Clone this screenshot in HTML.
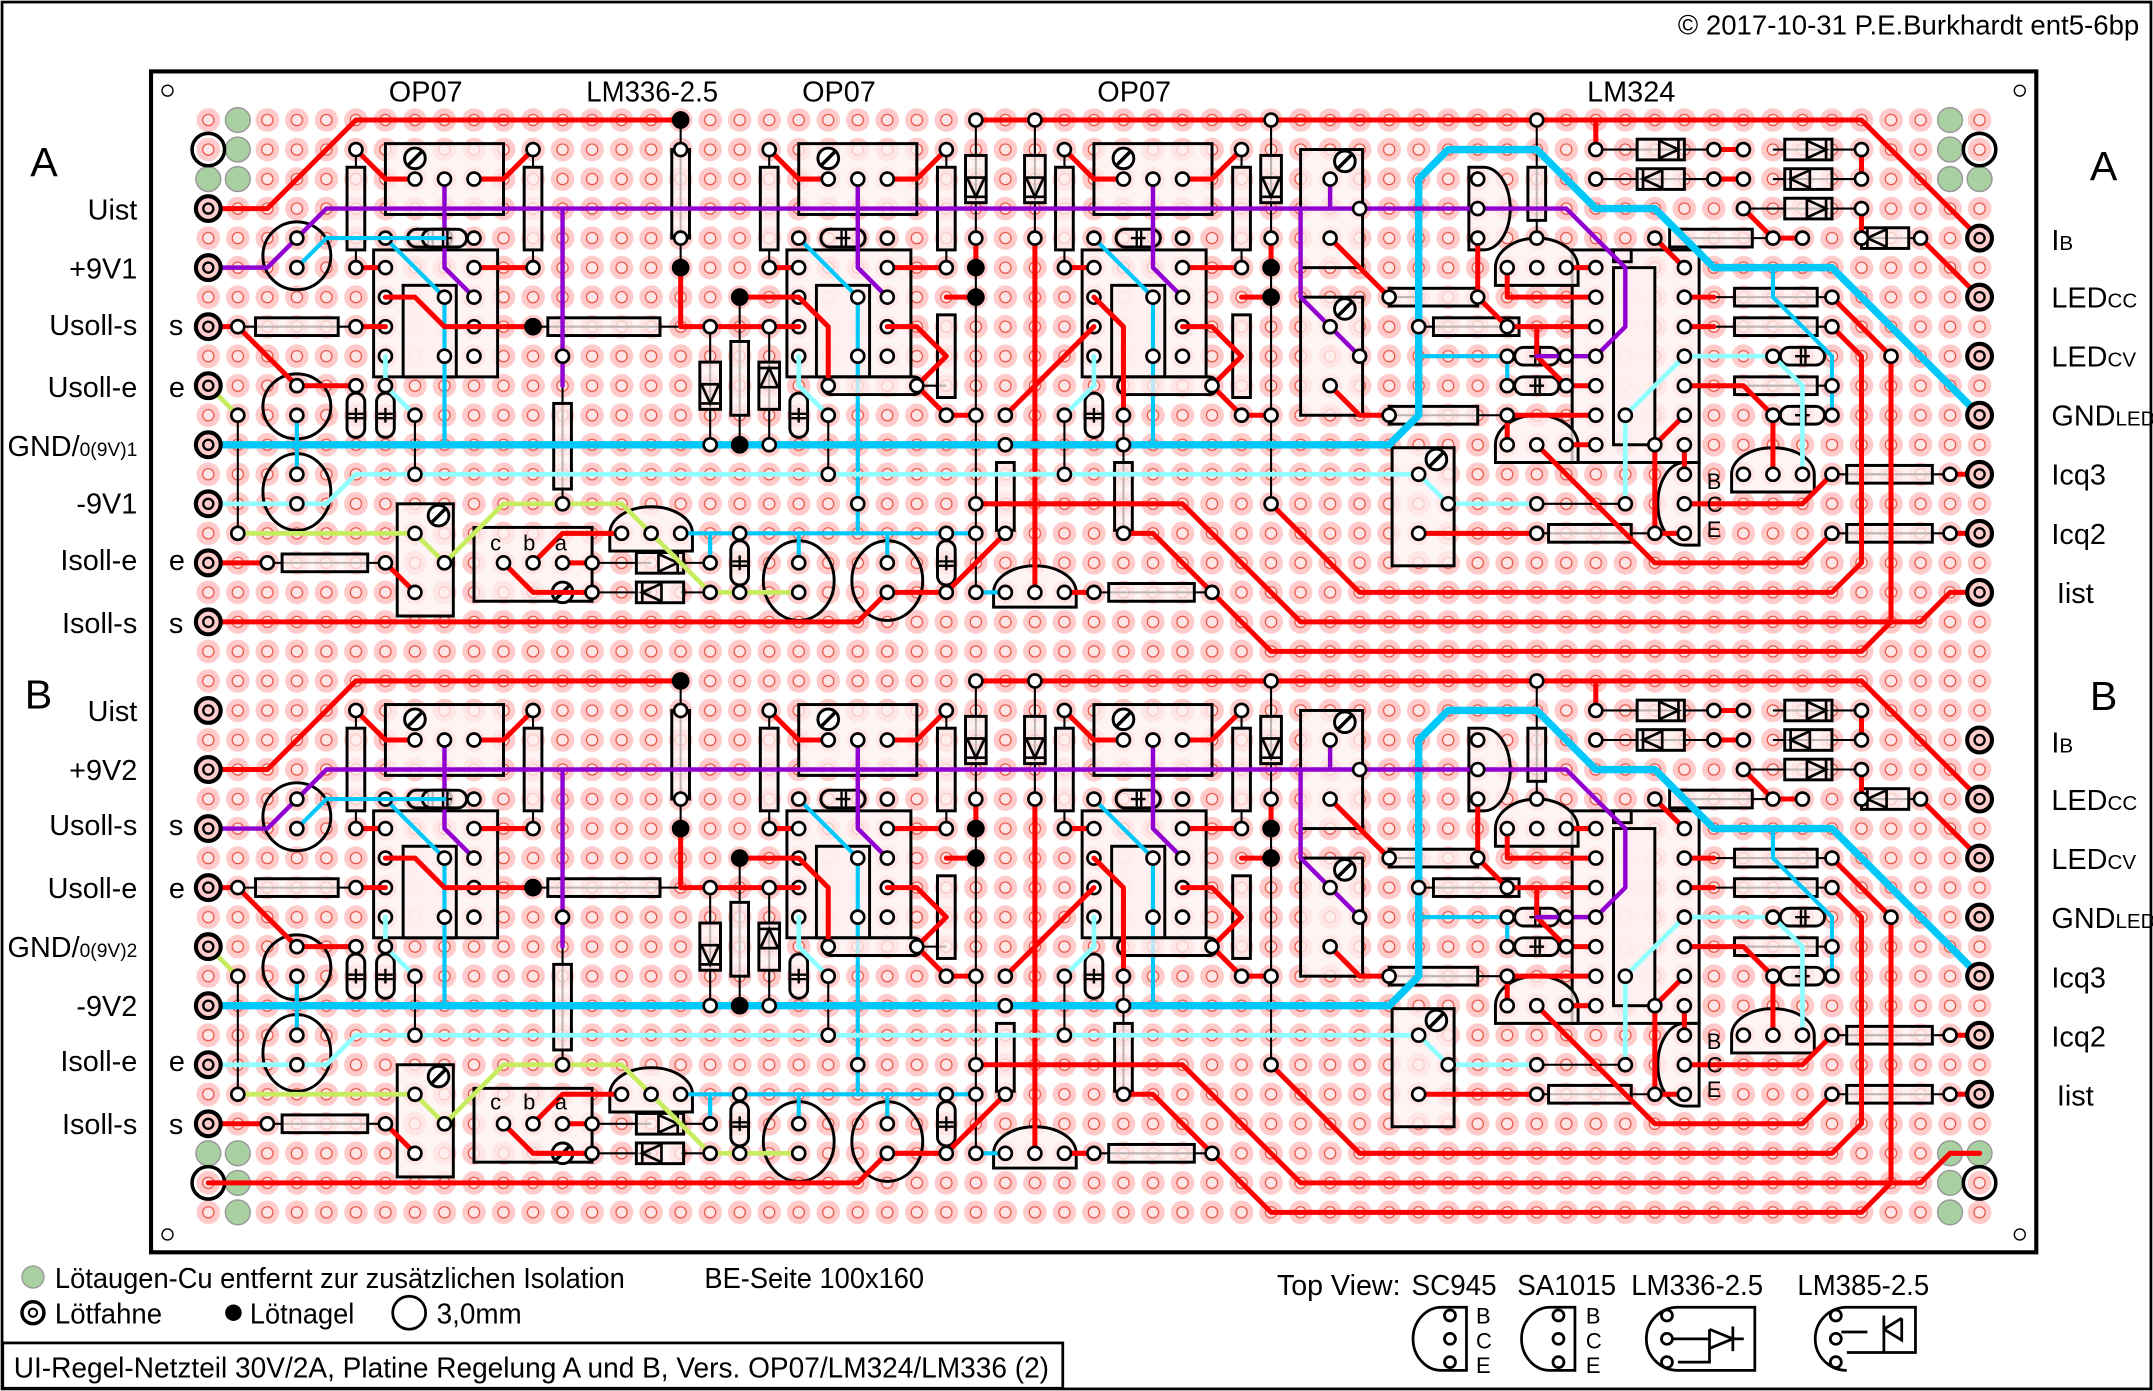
<!DOCTYPE html>
<html><head><meta charset="utf-8"><style>
html,body{margin:0;padding:0;background:#fff}
svg{display:block}
text{font-family:"Liberation Sans Narrow","Liberation Sans",sans-serif;fill:#000}
.c{fill:#fff0f0;fill-opacity:.75;stroke:#000;stroke-width:.1}
.r{fill:none;stroke:#f00;stroke-width:.17;stroke-linejoin:round;stroke-linecap:round}
.b{fill:none;stroke:#00c8f8;stroke-width:.25;stroke-linejoin:round;stroke-linecap:round}
.bt{fill:none;stroke:#00c8f8;stroke-width:.14;stroke-linejoin:round;stroke-linecap:round}
.lc{fill:none;stroke:#90ffff;stroke-width:.16;stroke-linejoin:round;stroke-linecap:round}
.pu{fill:none;stroke:#9000d0;stroke-width:.15;stroke-linejoin:round;stroke-linecap:round}
.y{fill:none;stroke:#c8ec60;stroke-width:.16;stroke-linejoin:round;stroke-linecap:round}
.k{fill:none;stroke:#000;stroke-width:.07}
.p{fill:#fff;stroke:#000;stroke-width:.09}
.d{fill:#000}
.g{fill:#a8d0a0;stroke:#999;stroke-width:.05}
.rg{fill:#fcc;stroke:#000;stroke-width:.14}
</style></head><body>
<svg width="2153" height="1391" viewBox="0 0 1568 1013" preserveAspectRatio="none">
<defs>
<pattern id="pad" patternUnits="userSpaceOnUse" x="-0.5" y="-0.5" width="1" height="1">
<circle cx="0.5" cy="0.5" r="0.4" fill="#ffcaca"/>
<circle cx="0.5" cy="0.5" r="0.19" fill="#ffe6e6" stroke="#e85040" stroke-width="0.04"/>
</pattern>
<g id="dh"><rect x="-0.8" y="-0.35" width="1.6" height="0.7" class="c"/><path d="M-0.05,-0.35V0.35M-0.05,-0.3L0.6,0L-0.05,0.3M0.6,-0.35V0.35" class="k" style="stroke-width:.09"/></g>
<g id="ch"><rect x="-0.75" y="-0.3" width="1.5" height="0.6" rx="0.3" class="c"/><path d="M-0.25,0H0.25M-0.05,-0.25V0.25M0.1,-0.25V0.25" class="k" style="stroke-width:.08"/></g>
<g id="tp"><circle r="0.35" fill="#fff" stroke="#000" stroke-width="0.1"/><path d="M-0.25,0.25L0.25,-0.25" stroke="#000" stroke-width="0.12"/></g>
<g id="op">
<rect x="1" y="0.8" width="4" height="2.4" class="c"/>
<rect x="0.6" y="4.4" width="4.2" height="4.3" class="c"/>
<rect x="1.6" y="5.6" width="1.8" height="3.1" class="c"/>
<rect x="-0.3" y="1.6" width="0.6" height="2.8" class="c"/>
<rect x="5.7" y="1.6" width="0.6" height="2.8" class="c"/>
<use href="#ch" x="2.5" y="4"/>
<use href="#tp" x="2" y="1.3"/>
<path class="k" d="M0,1V1.6M0,4.4V5M6,1V1.6M6,4.4V5"/>
<path class="r" d="M0,1L1,2H2M4,2H5L6,1M0,5H1M4,5H6"/>
<path class="pu" d="M3,2V5L4,6"/>
<path class="bt" d="M1,4L3,6V11"/>
<g class="p">
<circle cx="0" cy="1" r=".22"/><circle cx="0" cy="5" r=".22"/><circle cx="6" cy="1" r=".22"/><circle cx="6" cy="5" r=".22"/>
<circle cx="2" cy="2" r=".22"/><circle cx="3" cy="2" r=".22"/><circle cx="4" cy="2" r=".22"/><circle cx="1" cy="4" r=".22"/><circle cx="4" cy="4" r=".22"/>
<circle cx="1" cy="5" r=".22"/><circle cx="1" cy="6" r=".22"/><circle cx="1" cy="7" r=".22"/><circle cx="1" cy="8" r=".22"/>
<circle cx="4" cy="5" r=".22"/><circle cx="4" cy="6" r=".22"/><circle cx="4" cy="7" r=".22"/><circle cx="4" cy="8" r=".22"/>
<circle cx="3" cy="6" r=".22"/><circle cx="3" cy="8" r=".22"/>
</g>
</g>
<g id="half">
<path class="k" d="M16,0V5M26,0V16M28,0V16M36,0V13M1,10V14M7,10V12M17,7V11M18,6V11M19,7V11M21,10V12M22,7V14M29,10V12M31,10V14M45,0V4M12,8V13M24,9H25M38,3H44M41,6H40M2,15H6M13,15H15M13,16H15M16,15H17M16,16H18M34,16H30M1,7H5M11,7H16M47,1H52M53,1H56M47,2H52M53,2H56M52,3H56M45,13H48M45,14H49M55,12H59M55,14H59M50,4H53M56,4H58M41,7H45M40,10H44M51,6H55M51,7H55M51,9H55"/>
<use href="#op" x="5" y="0"/><use href="#op" x="19" y="0"/><use href="#op" x="29" y="0"/>
<ellipse cx="3" cy="4.6" rx="1.15" ry="1.15" fill="none" stroke="#000" stroke-width=".1"/>
<ellipse cx="3" cy="9.7" rx="1.15" ry="1.1" fill="none" stroke="#000" stroke-width=".1"/>
<ellipse cx="3" cy="12.6" rx="1.15" ry="1.3" fill="none" stroke="#000" stroke-width=".1"/>
<ellipse cx="20" cy="15.6" rx="1.2" ry="1.35" fill="none" stroke="#000" stroke-width=".1"/>
<ellipse cx="23" cy="15.6" rx="1.2" ry="1.35" fill="none" stroke="#000" stroke-width=".1"/>
<g class="c">
<rect x="1.6" y="6.7" width="2.8" height="0.6"/><rect x="11.5" y="6.7" width="3.8" height="0.6"/>
<rect x="2.5" y="14.7" width="2.9" height="0.6"/><rect x="30.5" y="15.7" width="2.9" height="0.6"/>
<rect x="40" y="5.7" width="3" height="0.6"/><rect x="41.5" y="6.7" width="2.9" height="0.6"/><rect x="40" y="9.7" width="3" height="0.6"/>
<rect x="49.5" y="3.7" width="2.8" height="0.6"/><rect x="51.7" y="5.7" width="2.8" height="0.6"/><rect x="51.7" y="6.7" width="2.8" height="0.6"/><rect x="51.7" y="8.7" width="2.8" height="0.6"/>
<rect x="55.5" y="11.7" width="2.9" height="0.6"/><rect x="55.5" y="13.7" width="2.9" height="0.6"/><rect x="45.4" y="13.7" width="2.8" height="0.6"/>
<rect x="15.7" y="1" width="0.6" height="3"/><rect x="44.7" y="1.6" width="0.6" height="1.8"/><rect x="11.7" y="9.6" width="0.6" height="2.9"/>
<rect x="17.7" y="7.5" width="0.6" height="2.5"/><rect x="24.7" y="6.6" width="0.6" height="2.8"/><rect x="34.7" y="6.6" width="0.6" height="2.8"/>
<rect x="26.7" y="11.6" width="0.6" height="2.3"/><rect x="30.7" y="11.6" width="0.6" height="2.3"/>
<rect x="37" y="1" width="2.1" height="4"/><rect x="37" y="6" width="2.1" height="4"/><rect x="40.1" y="11.1" width="2.1" height="4"/>
<rect x="6.4" y="13" width="1.9" height="3.8"/><rect x="9" y="13.8" width="4" height="2.5"/>
<rect x="46.2" y="4.4" width="4.3" height="7.2"/><rect x="47.6" y="5" width="1.4" height="6"/>
<rect x="47.6" y="4.4" width="0.6" height="0.4"/>
<path d="M43.6,5.6V5A1.4,1 0 0 1 46.4,5V5.6Z"/>
<path d="M43.6,11.6V11A1.4,1 0 0 1 46.4,11V11.6Z"/>
<path d="M13.6,14.6V14A1.4,0.9 0 0 1 16.4,14V14.6Z"/>
<path d="M26.6,16.5V16A1.4,0.9 0 0 1 29.4,16V16.5Z"/>
<path d="M51.6,12.6V12A1.4,0.9 0 0 1 54.4,12V12.6Z"/>
<path d="M50.5,11.6H50A0.9,1.4 0 0 0 50,14.4H50.5Z"/>
<path d="M42.7,1.6H43.2A0.9,1.4 0 0 1 43.2,4.4H42.7Z"/>
<rect x="20.8" y="8.7" width="3.4" height="0.6" rx="0.3"/><rect x="30.8" y="8.7" width="3.4" height="0.6" rx="0.3"/>
</g>
<use href="#dh" x="49.2" y="1"/><use href="#dh" transform="translate(49.2,2) rotate(180)"/>
<use href="#dh" x="54.2" y="1"/><use href="#dh" transform="translate(54.2,2) rotate(180)"/><use href="#dh" x="54.2" y="3"/>
<use href="#dh" transform="translate(56.8,4) rotate(180)"/>
<use href="#dh" transform="translate(26,2) rotate(90)"/><use href="#dh" transform="translate(28,2) rotate(90)"/><use href="#dh" transform="translate(36,2) rotate(90)"/>
<use href="#dh" transform="translate(17,9) rotate(90)"/><use href="#dh" transform="translate(19,9) rotate(-90)"/>
<use href="#dh" x="15.3" y="15"/><use href="#dh" transform="translate(15.3,16) rotate(180)"/>
<use href="#ch" x="45" y="8"/><use href="#ch" x="45" y="9"/><use href="#ch" x="54" y="8"/><use href="#ch" x="54" y="10"/>
<use href="#ch" x="8" y="4"/>
<use href="#ch" transform="translate(5,10) rotate(90)"/><use href="#ch" transform="translate(6,10) rotate(90)"/>
<use href="#ch" transform="translate(20,10) rotate(90)"/><use href="#ch" transform="translate(30,10) rotate(90)"/>
<use href="#ch" transform="translate(18,15) rotate(90)"/><use href="#ch" transform="translate(25,15) rotate(90)"/>
<use href="#tp" x="38.5" y="1.4"/><use href="#tp" x="38.5" y="6.4"/><use href="#tp" x="41.6" y="11.5"/><use href="#tp" x="7.8" y="13.4"/><use href="#tp" x="12" y="16"/>
<path class="r" d="M0,3H2L5,0H16M26,0H56L60,4M6,6H7L8,7H11M5,7H6M0,7H1L3,9H5M16,5V7H20M18,6H20L21,7V9M26,4V5M25,6H26M36,4V5M35,6H36M23,7H24L25,8L24,9L25,10H26M33,7H34L35,8L34,9L35,10H36M27,10L30,7M30,6L31,7V10M28,4V16M26,13H33L37,17H57V8L55,6M36,13L39,16H55L56,15V8L55,7M57,17H58L59,16H60M31,14H32L36,18H56L57,17M0,15H2M6,15L7,16M0,17H22L23,16H25L27,14M11,15L12,14H14M12,15H13M10,15L11,16H13M29,16H30M38,4L40,6M38,9L39,10H40M41,14H45M43,4V6L44,7H47M44,5V6H47M46,5H47M45,7V8L46,9H47M44,10H47M44,10V11M46,11H47M45,11L49,15H54L55,14M50,10L49,11V14H50M50,11V12M50,13H54L55,12M50,9H52L53,10V12M50,5L49,4M50,6H51M50,7H51M47,0V1M51,1H52M51,2H52M56,1V2M56,3V4M52,3L53,4H54M58,4L60,6M59,12H60M59,14H60"/>
<path class="b" d="M0,11H40L41,10V2L42,1H45L47,3H49L51,5H55L60,10"/>
<path class="bt" d="M41,8H44V9M53,5V6L55,8V10M3,10V12M16,14H26M22,11V14M17,14V15M20,14V15M23,14V15M26,16H27M8,4H6L4,4L3,5"/>
<path class="lc" d="M0,13H4L5,12H41L42,13H45M48,13V10L50,8H53L54,9V12M6,8V9L7,10M20,8V9L21,10M30,8V9L29,10"/>
<path class="pu" d="M0,5H2L4,3H46L48,5V7L47,8H45M12,3V9M37,3V6L39,8M38,2V3"/>
<path class="y" d="M0,9L1,10M1,14H7L8,15L10,13H14L17,16H20"/>
<g class="p">
<circle cx="3" cy="4" r=".22"/><circle cx="3" cy="5" r=".22"/><circle cx="1" cy="7" r=".22"/><circle cx="5" cy="7" r=".22"/><circle cx="3" cy="9" r=".22"/><circle cx="5" cy="9" r=".22"/>
<circle cx="3" cy="10" r=".22"/><circle cx="3" cy="12" r=".22"/><circle cx="3" cy="13" r=".22"/><circle cx="1" cy="10" r=".22"/><circle cx="1" cy="14" r=".22"/><circle cx="7" cy="10" r=".22"/><circle cx="7" cy="12" r=".22"/>
<circle cx="6" cy="9" r=".22"/><circle cx="2" cy="15" r=".22"/><circle cx="6" cy="15" r=".22"/><circle cx="7" cy="14" r=".22"/><circle cx="8" cy="15" r=".22"/><circle cx="7" cy="16" r=".22"/>
<circle cx="10" cy="15" r=".22"/><circle cx="11" cy="15" r=".22"/><circle cx="12" cy="15" r=".22"/><circle cx="13" cy="15" r=".22"/><circle cx="13" cy="16" r=".22"/>
<circle cx="14" cy="14" r=".22"/><circle cx="15" cy="14" r=".22"/><circle cx="16" cy="14" r=".22"/><circle cx="17" cy="15" r=".22"/><circle cx="17" cy="16" r=".22"/><circle cx="18" cy="14" r=".22"/><circle cx="18" cy="16" r=".22"/>
<circle cx="20" cy="15" r=".22"/><circle cx="20" cy="16" r=".22"/><circle cx="23" cy="15" r=".22"/><circle cx="23" cy="16" r=".22"/><circle cx="25" cy="14" r=".22"/><circle cx="25" cy="16" r=".22"/>
<circle cx="26" cy="14" r=".22"/><circle cx="26" cy="16" r=".22"/><circle cx="27" cy="14" r=".22"/><circle cx="27" cy="16" r=".22"/><circle cx="28" cy="16" r=".22"/><circle cx="29" cy="16" r=".22"/><circle cx="30" cy="16" r=".22"/><circle cx="34" cy="16" r=".22"/>
<circle cx="12" cy="13" r=".22"/><circle cx="12" cy="8" r=".22"/><circle cx="16" cy="1" r=".22"/><circle cx="16" cy="4" r=".22"/><circle cx="17" cy="7" r=".22"/><circle cx="17" cy="11" r=".22"/><circle cx="19" cy="7" r=".22"/><circle cx="19" cy="11" r=".22"/>
<circle cx="21" cy="9" r=".22"/><circle cx="21" cy="10" r=".22"/><circle cx="21" cy="12" r=".22"/><circle cx="22" cy="13" r=".22"/><circle cx="24" cy="9" r=".22"/><circle cx="25" cy="10" r=".22"/><circle cx="26" cy="0" r=".22"/><circle cx="26" cy="4" r=".22"/><circle cx="26" cy="10" r=".22"/><circle cx="26" cy="13" r=".22"/>
<circle cx="27" cy="10" r=".22"/><circle cx="27" cy="11" r=".22"/><circle cx="28" cy="0" r=".22"/><circle cx="28" cy="4" r=".22"/><circle cx="31" cy="10" r=".22"/><circle cx="31" cy="11" r=".22"/><circle cx="31" cy="14" r=".22"/><circle cx="29" cy="10" r=".22"/><circle cx="29" cy="12" r=".22"/>
<circle cx="34" cy="9" r=".22"/><circle cx="35" cy="10" r=".22"/><circle cx="36" cy="0" r=".22"/><circle cx="36" cy="4" r=".22"/><circle cx="36" cy="10" r=".22"/><circle cx="36" cy="13" r=".22"/>
<circle cx="38" cy="2" r=".22"/><circle cx="38" cy="4" r=".22"/><circle cx="39" cy="3" r=".22"/><circle cx="38" cy="9" r=".22"/><circle cx="39" cy="8" r=".22"/><circle cx="38" cy="7" r=".22"/><circle cx="40" cy="6" r=".22"/><circle cx="40" cy="10" r=".22"/><circle cx="41" cy="12" r=".22"/><circle cx="42" cy="13" r=".22"/><circle cx="41" cy="14" r=".22"/><circle cx="41" cy="7" r=".22"/><circle cx="43" cy="6" r=".22"/>
<circle cx="43" cy="2" r=".22"/><circle cx="43" cy="3" r=".22"/><circle cx="43" cy="4" r=".22"/><circle cx="44" cy="5" r=".22"/><circle cx="45" cy="5" r=".22"/><circle cx="46" cy="5" r=".22"/><circle cx="45" cy="0" r=".22"/><circle cx="45" cy="4" r=".22"/>
<circle cx="47" cy="5" r=".22"/><circle cx="47" cy="6" r=".22"/><circle cx="47" cy="7" r=".22"/><circle cx="47" cy="8" r=".22"/><circle cx="47" cy="9" r=".22"/><circle cx="47" cy="10" r=".22"/><circle cx="47" cy="11" r=".22"/>
<circle cx="50" cy="5" r=".22"/><circle cx="50" cy="6" r=".22"/><circle cx="50" cy="7" r=".22"/><circle cx="50" cy="8" r=".22"/><circle cx="50" cy="9" r=".22"/><circle cx="50" cy="10" r=".22"/><circle cx="50" cy="11" r=".22"/>
<circle cx="44" cy="7" r=".22"/><circle cx="44" cy="8" r=".22"/><circle cx="44" cy="9" r=".22"/><circle cx="44" cy="10" r=".22"/><circle cx="44" cy="11" r=".22"/><circle cx="45" cy="11" r=".22"/><circle cx="46" cy="11" r=".22"/><circle cx="46" cy="8" r=".22"/><circle cx="46" cy="9" r=".22"/>
<circle cx="48" cy="10" r=".22"/><circle cx="48" cy="13" r=".22"/><circle cx="45" cy="13" r=".22"/><circle cx="45" cy="14" r=".22"/><circle cx="49" cy="4" r=".22"/><circle cx="49" cy="11" r=".22"/><circle cx="49" cy="14" r=".22"/>
<circle cx="50" cy="12" r=".22"/><circle cx="50" cy="13" r=".22"/><circle cx="50" cy="14" r=".22"/><circle cx="47" cy="1" r=".22"/><circle cx="47" cy="2" r=".22"/>
<circle cx="51" cy="1" r=".22"/><circle cx="52" cy="1" r=".22"/><circle cx="51" cy="2" r=".22"/><circle cx="52" cy="2" r=".22"/><circle cx="52" cy="3" r=".22"/><circle cx="53" cy="4" r=".22"/><circle cx="54" cy="4" r=".22"/>
<circle cx="56" cy="1" r=".22"/><circle cx="56" cy="2" r=".22"/><circle cx="56" cy="3" r=".22"/><circle cx="56" cy="4" r=".22"/><circle cx="58" cy="4" r=".22"/>
<circle cx="55" cy="6" r=".22"/><circle cx="55" cy="7" r=".22"/><circle cx="55" cy="9" r=".22"/><circle cx="55" cy="10" r=".22"/><circle cx="53" cy="8" r=".22"/><circle cx="53" cy="10" r=".22"/><circle cx="55" cy="12" r=".22"/><circle cx="55" cy="14" r=".22"/><circle cx="59" cy="12" r=".22"/><circle cx="59" cy="14" r=".22"/>
<circle cx="52" cy="12" r=".22"/><circle cx="53" cy="12" r=".22"/><circle cx="54" cy="12" r=".22"/><circle cx="57" cy="8" r=".22"/>
</g>
<g class="d">
<circle cx="16" cy="0" r=".3"/><circle cx="16" cy="5" r=".3"/><circle cx="18" cy="6" r=".3"/><circle cx="26" cy="5" r=".3"/><circle cx="26" cy="6" r=".3"/><circle cx="36" cy="5" r=".3"/><circle cx="36" cy="6" r=".3"/><circle cx="11" cy="7" r=".3"/><circle cx="18" cy="11" r=".3"/>
</g>
</g>
<g id="rings">
<g class="rg">
<circle cx="0" cy="3" r=".42"/><circle cx="0" cy="5" r=".42"/><circle cx="0" cy="7" r=".42"/><circle cx="0" cy="9" r=".42"/><circle cx="0" cy="11" r=".42"/><circle cx="0" cy="13" r=".42"/><circle cx="0" cy="15" r=".42"/><circle cx="0" cy="17" r=".42"/>
<circle cx="60" cy="4" r=".42"/><circle cx="60" cy="6" r=".42"/><circle cx="60" cy="8" r=".42"/><circle cx="60" cy="10" r=".42"/><circle cx="60" cy="12" r=".42"/><circle cx="60" cy="14" r=".42"/><circle cx="60" cy="16" r=".42"/>
</g>
<g fill="none" stroke="#000" stroke-width=".08">
<circle cx="0" cy="3" r=".17"/><circle cx="0" cy="5" r=".17"/><circle cx="0" cy="7" r=".17"/><circle cx="0" cy="9" r=".17"/><circle cx="0" cy="11" r=".17"/><circle cx="0" cy="13" r=".17"/><circle cx="0" cy="15" r=".17"/><circle cx="0" cy="17" r=".17"/>
<circle cx="60" cy="4" r=".17"/><circle cx="60" cy="6" r=".17"/><circle cx="60" cy="8" r=".17"/><circle cx="60" cy="10" r=".17"/><circle cx="60" cy="12" r=".17"/><circle cx="60" cy="14" r=".17"/><circle cx="60" cy="16" r=".17"/>
</g>
</g>
</defs>

<rect x="0" y="0" width="1568" height="1013" fill="#fff"/>
<rect x="1.5" y="1.5" width="1565" height="1010" fill="none" stroke="#000" stroke-width="2"/>
<text x="1558" y="25" font-size="20" text-anchor="end" textLength="336" lengthAdjust="spacingAndGlyphs">© 2017-10-31 P.E.Burkhardt ent5-6bp</text>
<rect x="110" y="52" width="1373" height="860" fill="#fff" stroke="#000" stroke-width="3"/>
<g fill="none" stroke="#000" stroke-width="1"><circle cx="122" cy="66" r="4"/><circle cx="1471" cy="66" r="4"/><circle cx="122" cy="899" r="4"/><circle cx="1471" cy="899" r="4"/></g>

<g transform="translate(151.7,87.4) scale(21.5)">
<rect x="-0.5" y="-0.5" width="61" height="38" fill="url(#pad)"/>
<g class="g"><circle cx="1" cy="0" r=".42"/><circle cx="1" cy="1" r=".42"/><circle cx="0" cy="2" r=".42"/><circle cx="1" cy="2" r=".42"/>
<circle cx="59" cy="0" r=".42"/><circle cx="59" cy="1" r=".42"/><circle cx="59" cy="2" r=".42"/><circle cx="60" cy="2" r=".42"/>
<circle cx="1" cy="37" r=".42"/><circle cx="1" cy="36" r=".42"/><circle cx="0" cy="35" r=".42"/><circle cx="1" cy="35" r=".42"/>
<circle cx="59" cy="37" r=".42"/><circle cx="59" cy="36" r=".42"/><circle cx="59" cy="35" r=".42"/><circle cx="60" cy="35" r=".42"/></g>
<g fill="none" stroke="#000" stroke-width=".12"><circle cx="0" cy="1" r=".55"/><circle cx="60" cy="1" r=".55"/><circle cx="0" cy="36" r=".55"/><circle cx="60" cy="36" r=".55"/></g>
<use href="#half"/>
<use href="#half" transform="translate(0,19)"/>
<use href="#rings"/>
<use href="#rings" transform="translate(0,17)"/>
</g>

<g font-size="21">
<text x="310" y="74" text-anchor="middle">OP07</text>
<text x="475" y="74" text-anchor="middle" textLength="96" lengthAdjust="spacingAndGlyphs">LM336-2.5</text>
<text x="611" y="74" text-anchor="middle">OP07</text>
<text x="826" y="74" text-anchor="middle">OP07</text>
<text x="1188" y="74" text-anchor="middle">LM324</text>
</g>
<g font-size="30"><text x="22" y="128">A</text><text x="18" y="516">B</text><text x="1522" y="131">A</text><text x="1522" y="517">B</text></g>
<g font-size="21" text-anchor="end">
<text x="100" y="160">Uist</text><text x="100" y="203">+9V1</text><text x="100" y="244">Usoll-s</text><text x="100" y="289">Usoll-e</text>
<text x="100" y="332">GND/<tspan font-size="14">0(9V)1</tspan></text><text x="100" y="374">-9V1</text><text x="100" y="415">Isoll-e</text><text x="100" y="461">Isoll-s</text>
<text x="100" y="525">Uist</text><text x="100" y="568">+9V2</text><text x="100" y="608">Usoll-s</text><text x="100" y="654">Usoll-e</text>
<text x="100" y="697">GND/<tspan font-size="14">0(9V)2</tspan></text><text x="100" y="740">-9V2</text><text x="100" y="780">Isoll-e</text><text x="100" y="826">Isoll-s</text>
</g>
<g font-size="21">
<text x="123" y="244">s</text><text x="123" y="289">e</text><text x="123" y="415">e</text><text x="123" y="461">s</text>
<text x="123" y="608">s</text><text x="123" y="654">e</text><text x="123" y="780">e</text><text x="123" y="826">s</text>
<text x="1494" y="182">I<tspan font-size="15">B</tspan></text><text x="1494" y="224">LED<tspan font-size="15">CC</tspan></text><text x="1494" y="267">LED<tspan font-size="15">CV</tspan></text><text x="1494" y="310">GND<tspan font-size="15">LED</tspan></text>
<text x="1494" y="353">Icq3</text><text x="1494" y="396">Icq2</text><text x="1498" y="439">Iist</text>
<text x="1494" y="548">I<tspan font-size="15">B</tspan></text><text x="1494" y="590">LED<tspan font-size="15">CC</tspan></text><text x="1494" y="633">LED<tspan font-size="15">CV</tspan></text><text x="1494" y="676">GND<tspan font-size="15">LED</tspan></text>
<text x="1494" y="719">Icq3</text><text x="1494" y="762">Icq2</text><text x="1498" y="805">Iist</text>
</g>
<g font-size="16">
<text x="1243" y="356">B</text><text x="1243" y="373">C</text><text x="1243" y="391">E</text>
<text x="1243" y="764">B</text><text x="1243" y="781">C</text><text x="1243" y="799">E</text>
<text x="357" y="401">c</text><text x="381" y="401">b</text><text x="404" y="401">a</text>
<text x="357" y="808">c</text><text x="381" y="808">b</text><text x="404" y="808">a</text>
</g>

<circle cx="24" cy="930" r="8" fill="#a8d0a0" stroke="#999"/>
<text x="40" y="938" font-size="21" textLength="415" lengthAdjust="spacingAndGlyphs">Lötaugen-Cu entfernt zur zusätzlichen Isolation</text>
<circle cx="24" cy="956" r="8" fill="#fff" stroke="#000" stroke-width="2.5"/><circle cx="24" cy="956" r="3" fill="none" stroke="#000" stroke-width="1.5"/>
<text x="40" y="964" font-size="21" textLength="78" lengthAdjust="spacingAndGlyphs">Lötfahne</text>
<circle cx="170" cy="956" r="6" fill="#000"/>
<text x="182" y="964" font-size="21" textLength="76" lengthAdjust="spacingAndGlyphs">Lötnagel</text>
<circle cx="298" cy="956" r="12" fill="none" stroke="#000" stroke-width="2"/>
<text x="318" y="964" font-size="21" textLength="62" lengthAdjust="spacingAndGlyphs">3,0mm</text>
<text x="513" y="938" font-size="21" textLength="160" lengthAdjust="spacingAndGlyphs">BE-Seite 100x160</text>
<rect x="2" y="978" width="772" height="33" fill="#fff" stroke="#000" stroke-width="2"/>
<text x="10" y="1003" font-size="21" textLength="754" lengthAdjust="spacingAndGlyphs">UI-Regel-Netzteil 30V/2A, Platine Regelung A und B, Vers. OP07/LM324/LM336 (2)</text>
<g font-size="21"><text x="930" y="943" textLength="90" lengthAdjust="spacingAndGlyphs">Top View:</text><text x="1028" y="943" textLength="62" lengthAdjust="spacingAndGlyphs">SC945</text><text x="1105" y="943" textLength="72" lengthAdjust="spacingAndGlyphs">SA1015</text><text x="1188" y="943" textLength="96" lengthAdjust="spacingAndGlyphs">LM336-2.5</text><text x="1309" y="943" textLength="96" lengthAdjust="spacingAndGlyphs">LM385-2.5</text></g>
<g fill="none" stroke="#000" stroke-width="2">
<path d="M1068,952H1050A20,22 0 0 0 1050,998H1068Z"/><circle cx="1056" cy="958" r="4"/><circle cx="1056" cy="975" r="4"/><circle cx="1056" cy="992" r="4"/>
<path d="M1147,952H1129A20,22 0 0 0 1129,998H1147Z"/><circle cx="1135" cy="958" r="4"/><circle cx="1135" cy="975" r="4"/><circle cx="1135" cy="992" r="4"/>
<path d="M1222,952A22,22 0 0 0 1222,998H1278V952Z"/><circle cx="1214" cy="958" r="4"/><circle cx="1214" cy="975" r="4"/><circle cx="1214" cy="992" r="4"/>
<path d="M1218,975H1245M1245,968V982M1245,968L1262,975L1245,982M1262,966V984M1262,975H1270M1222,992H1245V982"/>
<path d="M1345,952A22,22 0 0 0 1345,998M1345,952H1395V985H1345"/><circle cx="1337" cy="958" r="4"/><circle cx="1337" cy="975" r="4"/><circle cx="1337" cy="992" r="4"/>
<path d="M1341,970H1360M1372,958V985M1372,968L1385,960M1372,968L1385,976L1385,960"/>
</g>
<g font-size="16"><text x="1075" y="964">B</text><text x="1075" y="982">C</text><text x="1075" y="1000">E</text><text x="1155" y="964">B</text><text x="1155" y="982">C</text><text x="1155" y="1000">E</text></g>
</svg>
</body></html>
